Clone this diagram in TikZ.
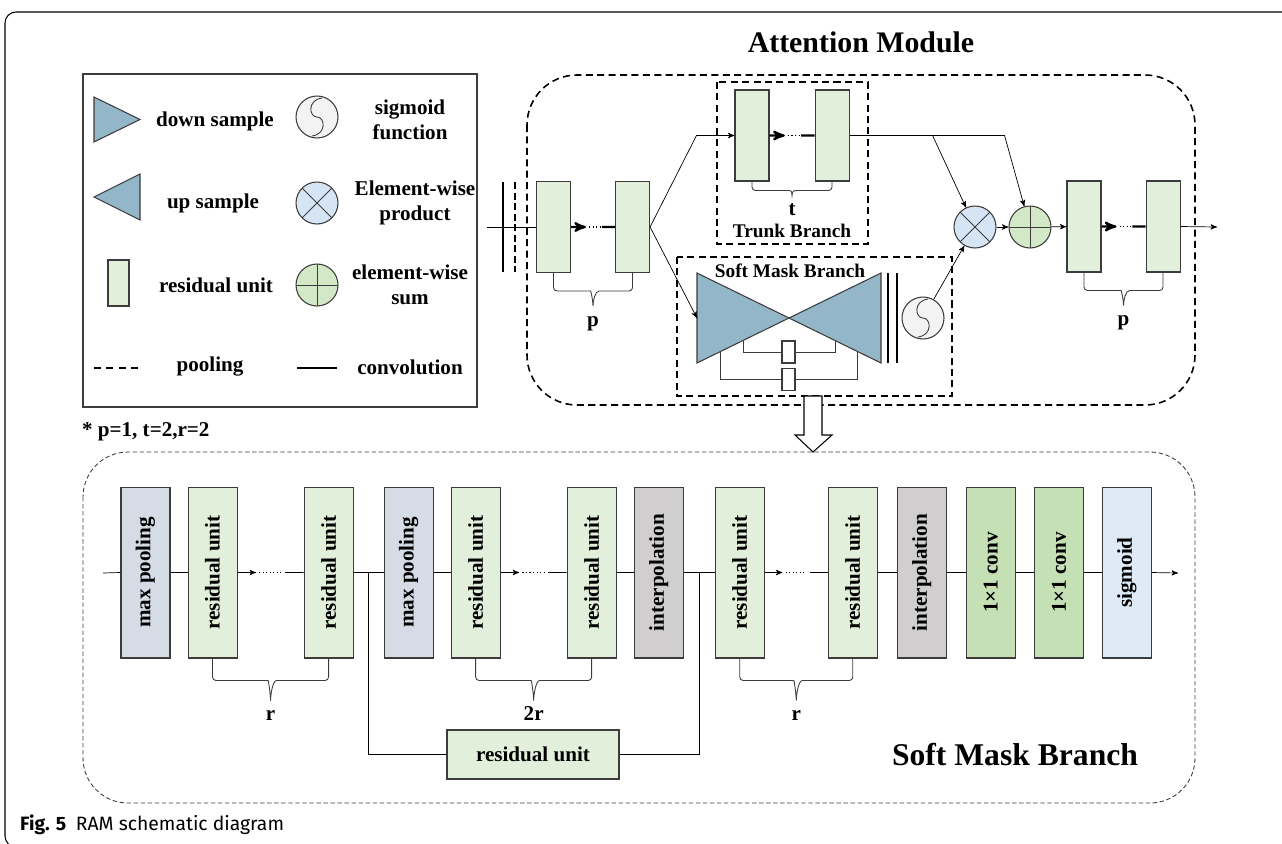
\documentclass[tikz,border=0pt]{standalone}
\usepackage{fontspec}
\setmainfont{Liberation Serif}
\newfontfamily\capfont{Fira Sans}
\usepackage{graphicx}
\usetikzlibrary{positioning, arrows, calc}

\definecolor{resgreen}{HTML}{E2EFDA}
\definecolor{poolblue}{HTML}{D6DCE5}
\definecolor{interpgray}{HTML}{D0CECE}
\definecolor{convgreen}{HTML}{C5E0B4}
\definecolor{sigblue}{HTML}{DEEBF7}
\definecolor{triblue}{HTML}{93B6C8}
\definecolor{prodblue}{HTML}{D5E5F3}
\definecolor{sumgreen}{HTML}{D3E8C6}
\definecolor{sigwhite}{HTML}{F3F3F3}
\definecolor{edgegray}{HTML}{3C3C3C}

% brace under two units: from, to, drop, tip, name, label
\newcommand{\grpbrace}[6]{%
  \draw[brc] (#1.south) -- ($(#1.south)+(0,#3)$) -- ($(#1.south)!.5!(#2.south)+(-6,#3)$)
    [sharp corners] .. controls +(4,0) and +(0,-5) .. ++(6,#4) coordinate (#5tip)
    .. controls +(0,-5) and +(-4,0) .. ++(6,-#4)
    [rounded corners=2pt] -- ($(#2.south)+(0,#3)$) -- (#2.south);
  \node[lbl, anchor=base] (#5) at ($(#5tip)+(0,20)$) {#6};}

\tikzset{
  lbl/.style={font=\bfseries\fontsize{12}{14}\selectfont, inner sep=1pt},
  unit/.style={draw=edgegray, fill=resgreen, line width=0.6pt, minimum width=0.68cm, minimum height=1.82cm, inner sep=0pt},
  lunit/.style={unit, minimum width=0.42cm, minimum height=0.92cm},
  skunit/.style={draw=edgegray, fill=white, line width=0.6pt, minimum width=0.26cm, minimum height=0.44cm, inner sep=0pt},
  block/.style={draw=edgegray, line width=0.6pt, minimum width=0.98cm, minimum height=3.42cm, inner sep=0pt, font=\bfseries\fontsize{12}{14}\selectfont},
  wideunit/.style={draw=edgegray, fill=resgreen, line width=0.6pt, minimum width=3.44cm, minimum height=0.98cm, font=\bfseries\fontsize{12}{14}\selectfont},
  opc/.style={circle, draw=edgegray, line width=0.6pt, minimum size=0.84cm, inner sep=0pt},
  prod/.style={opc, fill=prodblue, path picture={\draw[edgegray, line width=0.5pt]
      (path picture bounding box.north west) -- (path picture bounding box.south east)
      (path picture bounding box.north east) -- (path picture bounding box.south west);}},
  sum/.style={opc, fill=sumgreen, path picture={\draw[edgegray, line width=0.5pt]
      (path picture bounding box.north) -- (path picture bounding box.south)
      (path picture bounding box.west) -- (path picture bounding box.east);}},
  sgmd/.style={opc, fill=sigwhite, path picture={\draw[edgegray, line width=0.5pt, shift={(path picture bounding box.center)}]
      (5,-19) .. controls (-10,-17) and (-8,0) .. (0,0) .. controls (8,0) and (10,17) .. (-5,19);}},
  tri/.style={draw=edgegray, fill=triblue, line width=0.6pt},
  pooldash/.style={line width=0.9pt, dash pattern=on 4pt off 2.5pt},
  thindash/.style={draw=edgegray, line width=0.5pt, dash pattern=on 2.5pt off 1.5pt},
  dotchain/.style={line width=1pt, dash pattern=on 0.6pt off 1.4pt},
  brc/.style={draw=edgegray, line width=0.5pt, rounded corners=2pt}
}

\begin{document}
\begin{tikzpicture}[x=0.02cm, y=-0.02cm, >=stealth']
  \useasboundingbox (0,0) rectangle (1282,843);
  \clip (0,0) rectangle (1282,843);
  \draw[line width=0.6pt, rounded corners=0.22cm] (5,12) rectangle (1300,847);

  % legend
  \draw[draw=edgegray, line width=0.8pt] (83,74) rectangle (477,407);
  \filldraw[tri] (94,97) -- (140,119.5) -- (94,142) -- cycle;
  \filldraw[tri] (140,174) -- (94,197) -- (140,220) -- cycle;
  \node[lunit] (lru) at (118.5,283) {};
  \draw[line width=1pt, dash pattern=on 4pt off 3pt] (94,368) -- (143,368);
  \draw[line width=1.3pt] (297,368) -- (337,368);
  \node[sgmd] (lsg) at (317,117) {};
  \node[prod] (lpd) at (317,203) {};
  \node[sum] (lsm) at (317,285) {};
  \node[lbl] (ldown) at (215,121) {down sample};
  \node[lbl, align=center] (lsgt) at (410,120) {sigmoid\\function};
  \node[lbl] (lup) at (213,203) {up sample};
  \node[lbl, align=center] (lpdt) at (415,203) {Element-wise\\product};
  \node[lbl] (lrut) at (216,285) {residual unit};
  \node[lbl, align=center] (lsmt) at (410,285) {element-wise\\sum};
  \node[lbl] (lpool) at (210,367) {pooling};
  \node[lbl] (lconv) at (410,367) {convolution};
  \node[lbl, anchor=west] (note) at (80,432) {* p=1, t=2,r=2};

  % attention module
  \node[lbl, font=\bfseries\fontsize{17}{20}\selectfont] (atitle) at (861,42) {Attention Module};
  \draw[pooldash, rounded corners=1cm] (527,75) rectangle (1195,405);
  \draw[pooldash] (717,82) rectangle (868,244);
  \draw[pooldash] (677,257) rectangle (952,396);

  \node[unit] (a1) at (553.5,227) {};
  \node[unit, right=0.88cm of a1] (a2) {};
  \node[unit] (t1) at (752,135.5) {};
  \node[unit, right=0.9cm of t1] (t2) {};
  \node[unit] (o1) at (1084,226.5) {};
  \node[unit, right=0.88cm of o1] (o2) {};
  \node[prod] (pd) at (975,227) {};
  \node[sum] (sm) at (1030,227) {};
  \node[sgmd] (ss) at (923,318) {};

  \coordinate (ain) at (487,227);
  \coordinate (aout) at (1217,227);
  \draw (ain) -- (a1.west);
  \draw[line width=1.3pt] (503,182) -- (503,272);
  \draw[line width=1.3pt, dash pattern=on 4pt off 2pt] (515,182) -- (515,272);

  \foreach \a/\b in {a1/a2, t1/t2, o1/o2} {
    \draw[line width=1.3pt, ->] (\a.east) -- ($(\a.east)!.34!(\b.west)$);
    \draw[dotchain] ($(\a.east)!.41!(\b.west)$) -- ($(\a.east)!.66!(\b.west)$);
    \draw[line width=1.3pt] ($(\a.east)!.7!(\b.west)$) -- (\b.west);
  }

  % soft mask branch (small)
  \coordinate (dsT) at (697,273);
  \coordinate (dsB) at (697,363);
  \coordinate (mid) at (789,318);
  \coordinate (usT) at (881,273);
  \coordinate (usB) at (881,363);
  \coordinate (dsL) at ($(dsT)!.5!(dsB)$);
  \filldraw[tri] (dsT) -- (mid) -- (dsB) -- cycle;
  \filldraw[tri] (usT) -- (mid) -- (usB) -- cycle;
  \draw[line width=1.3pt] (888,273) -- (888,363) (897,273) -- (897,363);
  \node[skunit] (sk1) at (788.5,352) {};
  \node[skunit] (sk2) at (788.5,379.5) {};
  \draw[edgegray, line width=0.5pt] (sk1.west) -| ($(dsB)!.5!(mid)$);
  \draw[edgegray, line width=0.5pt] (sk1.east) -| ($(usB)!.5!(mid)$);
  \draw[edgegray, line width=0.5pt] (sk2.west) -| ($(dsB)!.25!(mid)$);
  \draw[edgegray, line width=0.5pt] (sk2.east) -| ($(usB)!.26!(mid)$);
  \node[lbl, font=\bfseries\fontsize{11}{13}\selectfont] (smlbl) at (790,271) {Soft Mask Branch};
  \node[lbl, font=\bfseries\fontsize{11}{13}\selectfont] (tklbl) at (792,231) {Trunk Branch};

  \draw[->] (a2.east) -- ($(t1.west)+(-38,0)$) -- (t1.west);
  \draw[->] (a2.east) -- (dsL);
  \coordinate (br1) at ($(t2.east)+(83,0)$);
  \coordinate (br2) at ($(t2.east)+(155,0)$);
  \draw (t2.east) -- (br2);
  \draw[->] (br1) -- (pd);
  \draw[->] (br2) -- (sm);
  \draw[->] (ss) -- (pd);
  \draw[->] (pd) -- (sm);
  \draw[->] (sm) -- (o1);
  \draw[->] (o2.east) -- (aout);

  \grpbrace{a1}{a2}{18}{15}{bp1}{p}
  \grpbrace{t1}{t2}{9}{5}{bt}{t}
  \grpbrace{o1}{o2}{18}{15}{bp2}{p}

  \draw[fill=white, line width=0.6pt] (804,396) -- (804,435) -- (795,435) -- (813,452) -- (832,435) -- (822,435) -- (822,396) -- cycle;

  % soft mask branch (detail)
  \draw[thindash, rounded corners=0.9cm] (83,452) rectangle (1195,803);
  \node[block, fill=poolblue] (mp1) at (145.5,572.5) {\rotatebox{90}{max pooling}};
  \node[block, fill=resgreen, right=0.34cm of mp1] (ru1) {\rotatebox{90}{residual unit}};
  \node[block, fill=resgreen, right=1.32cm of ru1] (ru2) {\rotatebox{90}{residual unit}};
  \node[block, fill=poolblue, right=0.6cm of ru2] (mp2) {\rotatebox{90}{max pooling}};
  \node[block, fill=resgreen, right=0.34cm of mp2] (ru3) {\rotatebox{90}{residual unit}};
  \node[block, fill=resgreen, right=1.32cm of ru3] (ru4) {\rotatebox{90}{residual unit}};
  \node[block, fill=interpgray, right=0.34cm of ru4] (ip1) {\rotatebox{90}{interpolation}};
  \node[block, fill=resgreen, right=0.62cm of ip1] (ru5) {\rotatebox{90}{residual unit}};
  \node[block, fill=resgreen, right=1.26cm of ru5] (ru6) {\rotatebox{90}{residual unit}};
  \node[block, fill=interpgray, right=0.38cm of ru6] (ip2) {\rotatebox{90}{interpolation}};
  \node[block, fill=convgreen, right=0.38cm of ip2] (cv1) {\rotatebox{90}{1×1 conv}};
  \node[block, fill=convgreen, right=0.36cm of cv1] (cv2) {\rotatebox{90}{1×1 conv}};
  \node[block, fill=sigblue, right=0.36cm of cv2] (sg) {\rotatebox{90}{sigmoid}};
  \node[wideunit] (rs) at (533,754.5) {residual unit};

  \coordinate (bin) at (103,573);
  \coordinate (bout) at (1178,573);
  \coordinate (sp1) at ($(ru2.east)!.5!(mp2.west)$);
  \coordinate (sp2) at ($(ip1.east)!.5!(ru5.west)$);
  \draw (bin) -- (mp1.west);
  \foreach \a/\b in {mp1/ru1, ru2/mp2, mp2/ru3, ru4/ip1, ip1/ru5, ru6/ip2, ip2/cv1, cv1/cv2, cv2/sg}
    \draw (\a.east) -- (\b.west);
  \draw[->] (sg.east) -- (bout);
  \foreach \a/\b in {ru1/ru2, ru3/ru4, ru5/ru6} {
    \draw[->] (\a.east) -- ($(\a.east)!.28!(\b.west)$);
    \draw[dotchain, line width=0.6pt] ($(\a.east)!.33!(\b.west)$) -- ($(\a.east)!.65!(\b.west)$);
    \draw ($(\a.east)!.72!(\b.west)$) -- (\b.west);
  }
  \draw (sp1) |- (rs.west);
  \draw (rs.east) -| (sp2);

  \grpbrace{ru1}{ru2}{22}{20}{gr1}{r}
  \grpbrace{ru3}{ru4}{22}{20}{gr2}{2r}
  \grpbrace{ru5}{ru6}{22}{20}{gr3}{r}

  \node[lbl, font=\bfseries\fontsize{18}{21}\selectfont] (smtitle) at (1015,755) {Soft Mask Branch};

  \node[anchor=west, font=\capfont\fontsize{11}{13}\selectfont] (cap) at (14,825) {\textbf{Fig. 5}\enspace RAM schematic diagram};
\end{tikzpicture}
\end{document}
